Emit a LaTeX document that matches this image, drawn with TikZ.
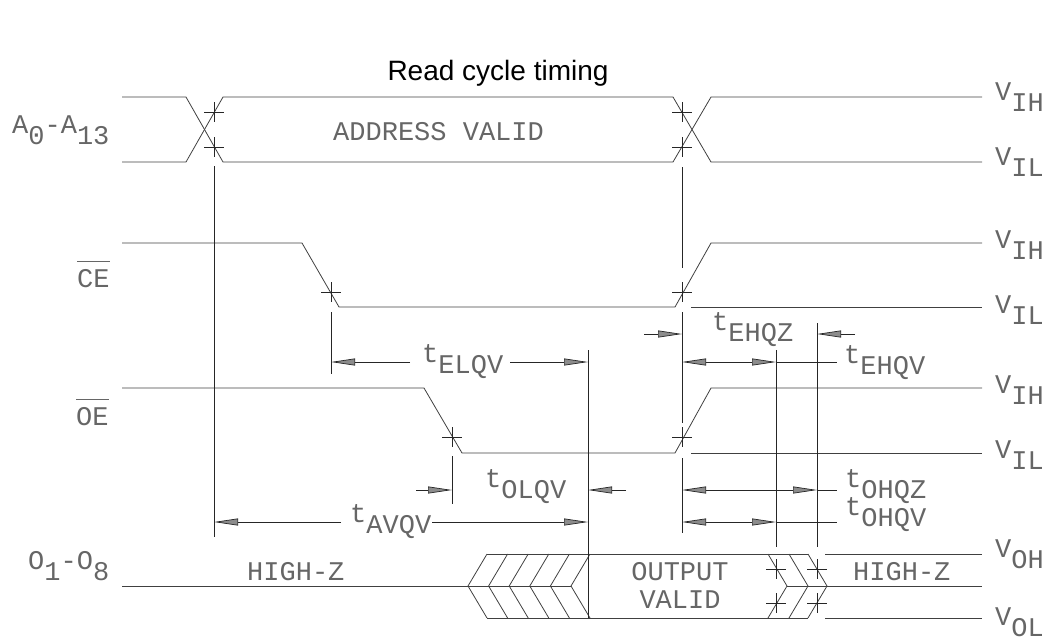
\documentclass[tikz,border=0pt]{standalone}
\usepackage{fontspec}
\setmainfont{Liberation Sans}
\newfontfamily\cadfont{Liberation Mono}
\usetikzlibrary{arrows.meta}

% lowered index, same size as the letters
\newcommand{\lo}[1]{\raisebox{-11pt}{#1}}
% active-low signal name
\newcommand{\invsig}[1]{\vbox{\hrule height 0.7pt\vskip 7pt\hbox{#1}}}

\tikzset{
  tri/.tip={Triangle[length=24pt,width=7pt,fill=black!45]},
  sig/.style={draw=black!75, line width=0.8pt},
  refline/.style={draw=black!85, line width=0.8pt},
  dim/.style={draw=black!85, line width=0.7pt},
  lbl/.style={anchor=base west, inner sep=0pt, text=black!60,
    font=\cadfont\fontsize{27}{31}\selectfont},
}

\begin{document}
\begin{tikzpicture}[x=1pt, y=-1pt]
    \useasboundingbox (0,0) rectangle (1047,641);

    % Title
    \node[anchor=base, inner sep=0pt, font=\fontsize{28}{32}\selectfont] (title) at (498,80) {Read cycle timing};

    % Address bus
    \draw[sig] (122,97) -- (186,97) -- (223,162) -- (673,162) -- (711,97) -- (982,97);
    \draw[sig] (122,162) -- (186,162) -- (223,97) -- (673,97) -- (711,162) -- (982,162);

    % Chip enable
    \draw[sig] (122,243) -- (302,243) -- (339,307) -- (675,307) -- (711,243) -- (982,243);
    \draw[sig] (691,307) -- (982,307);

    % Output enable
    \draw[sig] (122,388) -- (424,388) -- (462,453) -- (675,453) -- (711,388) -- (982,388);
    \draw[sig] (691,453) -- (982,453);

    % Data outputs
    \draw[sig] (122,586) -- (571,586);
    \draw[sig] (487,554) -- (808,554);
    \draw[sig] (487,618) -- (808,618);
    \foreach \k in {0,...,5} {
        \draw[sig] ({487+20.6*\k},554) -- ({468+20.6*\k},586) -- ({487+20.6*\k},618);
    }
    \foreach \x in {768,789,808} {
        \draw[sig] (\x,554) -- (\x+19,586) -- (\x,618);
    }
    \draw[sig] (787,586) -- (982,586);
    \draw[sig] (825,554) -- (982,554);
    \draw[sig] (825,618) -- (982,618);

    % Crossing marks
    \foreach \x/\y in {214/112,214/147,682/112,682/147,331/292,682/292,
                       452/437,682/437,776/569,817/569,776/603,817/603} {
        \draw[refline] (\x-10,\y) -- (\x+10,\y) (\x,\y-10) -- (\x,\y+10);
    }

    % Reference lines
    \draw[refline] (214,166) -- (214,537);
    \draw[refline] (331,312) -- (331,374);
    \draw[refline] (452,456) -- (452,504);
    \draw[refline] (588,350) -- (588,618);
    \draw[refline] (682,167) -- (682,268);
    \draw[refline] (682,312) -- (682,423);
    \draw[refline] (682,458) -- (682,533);
    \draw[refline] (776,350) -- (776,547);
    \draw[refline] (817,323) -- (817,547);

    % Timing arrows
    \draw[dim, -tri] (410,362) -- (331,362);
    \draw[dim, -tri] (510,362) -- (588,362);
    \draw[dim, -tri] (416,490) -- (452,490);
    \draw[dim, -tri] (626,490) -- (588,490);
    \draw[dim, -tri] (341,522) -- (214,522);
    \draw[dim, -tri] (432,522) -- (588,522);
    \draw[dim, -tri] (644,334) -- (682,334);
    \draw[dim, -tri] (855,334) -- (817,334);
    \draw[dim, tri-tri] (682,362) -- (776,362);
    \draw[dim] (776,362) -- (837,362);
    \draw[dim, tri-tri] (682,490) -- (817,490);
    \draw[dim] (817,490) -- (837,490);
    \draw[dim, tri-tri] (682,522) -- (776,522);
    \draw[dim] (776,522) -- (837,522);

    % Signal names
    \node[lbl] (adr) at (12,133) {A\lo{0}-A\lo{13}};
    \node[lbl] (ce) at (77,287) {\invsig{CE}};
    \node[lbl] (oe) at (76,425) {\invsig{OE}};
    \node[lbl] (dq) at (28,569) {O\lo{1}-O\lo{8}};

    % Levels
    \node[lbl] (vih1) at (995,100) {V\lo{IH}};
    \node[lbl] (vil1) at (995,165) {V\lo{IL}};
    \node[lbl] (vih2) at (995,248) {V\lo{IH}};
    \node[lbl] (vil2) at (995,313) {V\lo{IL}};
    \node[lbl] (vih3) at (995,393) {V\lo{IH}};
    \node[lbl] (vil3) at (995,458) {V\lo{IL}};
    \node[lbl] (voh) at (995,557) {V\lo{OH}};
    \node[lbl] (vol) at (995,625) {V\lo{OL}};

    % States
    \node[lbl] (addr) at (333,140) {ADDRESS VALID};
    \node[lbl] (hz1) at (247,580) {HIGH-Z};
    \node[lbl, anchor=base] (outv) at (680,580) {OUTPUT};
    \node[lbl, anchor=base] (valid) at (680,608) {VALID};
    \node[lbl] (hz2) at (853,580) {HIGH-Z};

    % Timing names
    \node[lbl] (elqv) at (422,362) {t\lo{ELQV}};
    \node[lbl] (ehqz) at (712,330) {t\lo{EHQZ}};
    \node[lbl] (ehqv) at (844,363) {t\lo{EHQV}};
    \node[lbl] (olqv) at (485,487) {t\lo{OLQV}};
    \node[lbl] (avqv) at (350,522) {t\lo{AVQV}};
    \node[lbl] (ohqz) at (845,487) {t\lo{OHQZ}};
    \node[lbl] (ohqv) at (845,515) {t\lo{OHQV}};
\end{tikzpicture}
\end{document}
